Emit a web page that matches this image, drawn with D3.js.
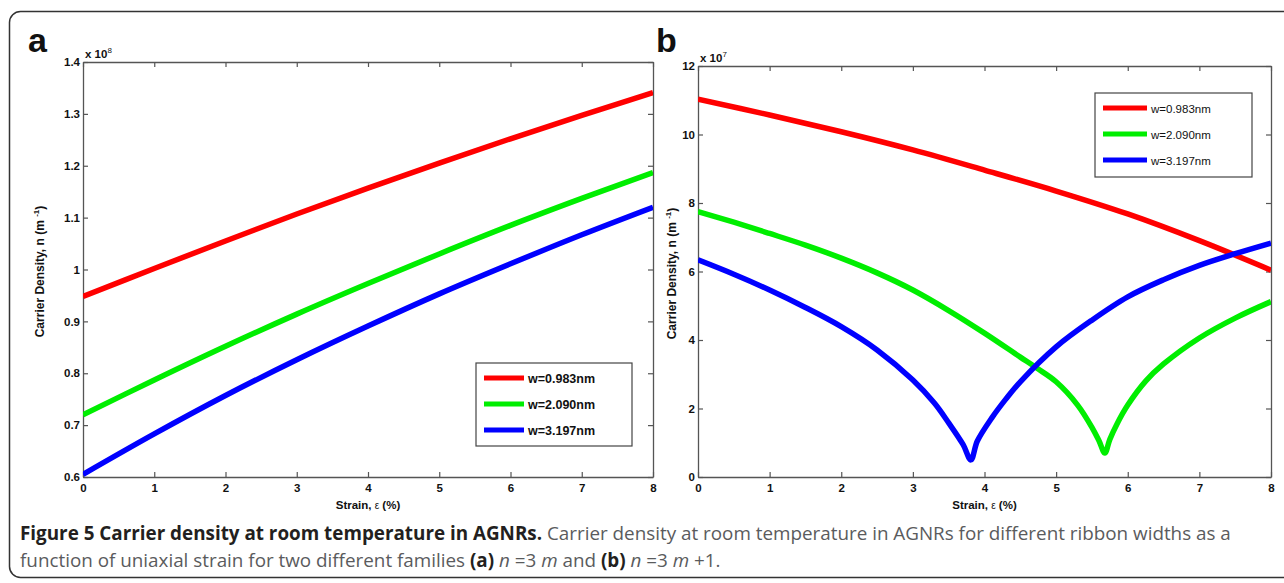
<!DOCTYPE html>
<html>
<head>
<meta charset="utf-8">
<script src="https://cdn.jsdelivr.net/npm/d3@7"></script>
<style>
  html, body { margin: 0; padding: 0; background: #fff; }
  svg { display: block; }
</style>
</head>
<body>
<svg id="chart" width="1284" height="583"></svg>
<script>
// ---------------- DATA ----------------
const seriesNames = ["w=0.983nm", "w=2.090nm", "w=3.197nm"];
const seriesColors = ["#ff0000", "#00ee00", "#0000ff"];

// Panel a (n = 3m), values in units of 1e8 m^-1
const strainA = [0, 1, 2, 3, 4, 5, 6, 7, 8];
const redA   = [0.948, 1.002, 1.055, 1.107, 1.157, 1.205, 1.252, 1.297, 1.341];
const greenA = [0.720, 0.787, 0.852, 0.914, 0.973, 1.030, 1.085, 1.137, 1.187];
const blueA  = [0.605, 0.683, 0.757, 0.826, 0.891, 0.953, 1.011, 1.067, 1.120];

// Panel b (n = 3m+1), values in units of 1e7 m^-1
const strainRedB = [0, 1, 2, 3, 4, 5, 6, 7, 8];
const redB       = [11.03, 10.57, 10.08, 9.55, 8.96, 8.35, 7.68, 6.90, 6.04];
const strainGreenB = [0, 0.5, 1, 1.5, 2, 2.5, 3, 3.5, 4, 4.5, 4.73, 5, 5.3, 5.5, 5.6, 5.68, 5.75, 5.85, 6, 6.25, 6.5, 7, 7.5, 8];
const greenB       = [7.75, 7.44, 7.11, 6.77, 6.39, 5.96, 5.46, 4.86, 4.20, 3.50, 3.18, 2.78, 2.10, 1.45, 1.05, 0.70, 1.10, 1.55, 2.10, 2.80, 3.30, 4.06, 4.64, 5.12];
const strainBlueB = [0, 0.5, 1, 1.5, 2, 2.5, 3, 3.3, 3.5, 3.7, 3.81, 3.9, 4.1, 4.3, 4.5, 5, 5.5, 6, 6.5, 7, 7.5, 8];
const blueB       = [6.34, 5.92, 5.46, 4.95, 4.39, 3.71, 2.83, 2.16, 1.58, 0.95, 0.50, 1.05, 1.72, 2.28, 2.78, 3.80, 4.58, 5.26, 5.76, 6.18, 6.52, 6.83];

const xTicks = [0, 1, 2, 3, 4, 5, 6, 7, 8];
const yTicksA = [0.6, 0.7, 0.8, 0.9, 1, 1.1, 1.2, 1.3, 1.4];
const yTicksB = [0, 2, 4, 6, 8, 10, 12];
const yTickLabelsA = ["0.6", "0.7", "0.8", "0.9", "1", "1.1", "1.2", "1.3", "1.4"];
const yTickLabelsB = ["0", "2", "4", "6", "8", "10", "12"];

// ---------------- DRAW ----------------
const svg = d3.select("#chart");
const AXIS_FONT = "'Liberation Sans', Arial, sans-serif";

svg.append("rect")
  .attr("x", 9.5).attr("y", 11.5)
  .attr("width", 1300).attr("height", 566)
  .attr("rx", 11).attr("ry", 11)
  .attr("fill", "none").attr("stroke", "#333").attr("stroke-width", 1.5);

function panel(opts) {
  const { left, right, top, bottom, xDomain, yDomain, yTicks, yLabels, series, label, exp, legend } = opts;
  const x = d3.scaleLinear().domain(xDomain).range([left, right]);
  const y = d3.scaleLinear().domain(yDomain).range([bottom, top]);
  const g = svg.append("g");

  const axisStyle = sel => {
    sel.select(".domain").attr("stroke", "#555").attr("stroke-width", 1.3);
    sel.selectAll(".tick line").attr("stroke", "#555").attr("stroke-width", 1.2);
    sel.selectAll("text").attr("font-family", AXIS_FONT).attr("font-weight", "bold")
      .attr("font-size", 11.5).attr("fill", "#111");
  };
  g.append("g").attr("transform", `translate(0,${bottom})`)
    .call(d3.axisBottom(x).tickValues(xTicks).tickFormat(d3.format("d")).tickSizeInner(-5).tickSizeOuter(0).tickPadding(7))
    .call(axisStyle);
  g.append("g").attr("transform", `translate(0,${top})`)
    .call(d3.axisTop(x).tickValues(xTicks).tickFormat("").tickSizeInner(-5).tickSizeOuter(0))
    .call(axisStyle);
  g.append("g").attr("transform", `translate(${left},0)`)
    .call(d3.axisLeft(y).tickValues(yTicks).tickFormat((d, i) => yLabels[i]).tickSizeInner(-5).tickSizeOuter(0).tickPadding(3))
    .call(axisStyle);
  g.append("g").attr("transform", `translate(${right},0)`)
    .call(d3.axisRight(y).tickValues(yTicks).tickFormat("").tickSizeInner(-5).tickSizeOuter(0))
    .call(axisStyle);

  const cid = "clip-" + label;
  svg.append("clipPath").attr("id", cid).append("rect")
    .attr("x", left).attr("y", top).attr("width", right - left).attr("height", bottom - top);

  const line = d3.line().x(d => x(d[0])).y(d => y(d[1])).curve(d3.curveCatmullRom.alpha(0.5));
  const lg = g.append("g").attr("clip-path", `url(#${cid})`);
  series.forEach((s, i) => {
    const pts = s.xs.map((v, j) => [v, s.ys[j]]);
    lg.append("path").attr("d", line(pts)).attr("fill", "none")
      .attr("stroke", seriesColors[i]).attr("stroke-width", 5.5)
      .attr("stroke-linejoin", "round");
  });

  const et = g.append("text").attr("x", left + 2).attr("y", top - 4)
    .attr("font-family", AXIS_FONT).attr("font-weight", "bold").attr("font-size", 11.5).attr("fill", "#111");
  et.append("tspan").text("x 10");
  et.append("tspan").attr("font-size", 8).attr("dy", -5).attr("font-weight", "normal").text(exp);

  const xl = g.append("text").attr("x", (left + right) / 2).attr("y", bottom + 32)
    .attr("text-anchor", "middle").attr("font-family", AXIS_FONT).attr("font-weight", "bold")
    .attr("font-size", 11.5).attr("fill", "#111");
  xl.append("tspan").text("Strain, ");
  xl.append("tspan").attr("font-weight", "normal").attr("font-size", 10).text("ε");
  xl.append("tspan").text(" (%)");

  const ylx = opts.yLabelX, yly = (top + bottom) / 2 + 2;
  const yl = g.append("text").attr("transform", `translate(${ylx},${yly}) rotate(-90)`)
    .attr("text-anchor", "middle").attr("font-family", AXIS_FONT).attr("font-weight", "bold")
    .attr("font-size", 12).attr("fill", "#111");
  yl.append("tspan").text("Carrier Density, n (m ");
  yl.append("tspan").attr("font-size", 8).attr("dy", -5).text("-1");
  yl.append("tspan").attr("dy", 5).text(")");

  svg.append("text").attr("x", opts.letterX).attr("y", 52)
    .attr("font-family", AXIS_FONT).attr("font-weight", "bold").attr("font-size", 34)
    .attr("fill", "#111").text(label);

  const L = legend;
  g.append("rect").attr("x", L.x).attr("y", L.y).attr("width", L.w).attr("height", L.h)
    .attr("fill", "#fff").attr("stroke", "#444").attr("stroke-width", 1.2);
  seriesNames.forEach((n, i) => {
    const cy = L.y + L.first + i * L.step;
    g.append("line").attr("x1", L.x + 8).attr("x2", L.x + 8 + L.lineLen)
      .attr("y1", cy).attr("y2", cy).attr("stroke", seriesColors[i]).attr("stroke-width", 5);
    g.append("text").attr("x", L.x + 12 + L.lineLen).attr("y", cy + 4.5)
      .attr("font-family", AXIS_FONT).attr("font-weight", L.bold ? "bold" : "normal")
      .attr("font-size", L.fs).attr("fill", "#111").text(n);
  });
}

panel({
  left: 83, right: 653, top: 62, bottom: 477,
  xDomain: [0, 8], yDomain: [0.6, 1.4], yTicks: yTicksA, yLabels: yTickLabelsA,
  series: [{ xs: strainA, ys: redA }, { xs: strainA, ys: greenA }, { xs: strainA, ys: blueA }],
  label: "a", exp: "8", letterX: 28, yLabelX: 44,
  legend: { x: 476, y: 363, w: 156, h: 83, first: 15, step: 26, lineLen: 40, fs: 12.5, bold: true }
});

panel({
  left: 698, right: 1271, top: 66, bottom: 477,
  xDomain: [0, 8], yDomain: [0, 12], yTicks: yTicksB, yLabels: yTickLabelsB,
  series: [{ xs: strainRedB, ys: redB }, { xs: strainGreenB, ys: greenB }, { xs: strainBlueB, ys: blueB }],
  label: "b", exp: "7", letterX: 656, yLabelX: 676,
  legend: { x: 1095, y: 93, w: 157, h: 84, first: 15, step: 26, lineLen: 44, fs: 11.5, bold: false }
});

// ---------------- CAPTION ----------------
const CAP_FONT = "'Open Sans', 'Noto Sans', sans-serif";
const cap = svg.append("g");
const l1 = cap.append("text").attr("x", 0).attr("y", 0)
  .attr("font-family", CAP_FONT).attr("font-size", 19);
l1.append("tspan").attr("font-weight", "bold").attr("fill", "#231f20")
  .text("Figure 5 Carrier density at room temperature in AGNRs.");
l1.append("tspan").attr("fill", "#5a5b5d")
  .text(" Carrier density at room temperature in AGNRs for different ribbon widths as a");

const l2 = cap.append("text").attr("x", 0).attr("y", 27)
  .attr("font-family", CAP_FONT).attr("font-size", 19).attr("fill", "#5a5b5d");
l2.append("tspan").text("function of uniaxial strain for two different families ");
l2.append("tspan").attr("font-weight", "bold").attr("fill", "#231f20").text("(a)");
l2.append("tspan").text(" ");
l2.append("tspan").attr("font-style", "italic").text("n");
l2.append("tspan").text(" =3 ");
l2.append("tspan").attr("font-style", "italic").text("m");
l2.append("tspan").text(" and ");
l2.append("tspan").attr("font-weight", "bold").attr("fill", "#231f20").text("(b)");
l2.append("tspan").text(" ");
l2.append("tspan").attr("font-style", "italic").text("n");
l2.append("tspan").text(" =3 ");
l2.append("tspan").attr("font-style", "italic").text("m");
l2.append("tspan").text(" +1.");

const w1 = l1.node().getComputedTextLength();
const sx = (1232 - 20) / w1;
cap.attr("transform", `translate(20,540) scale(${sx},1)`);
</script>
</body>
</html>
